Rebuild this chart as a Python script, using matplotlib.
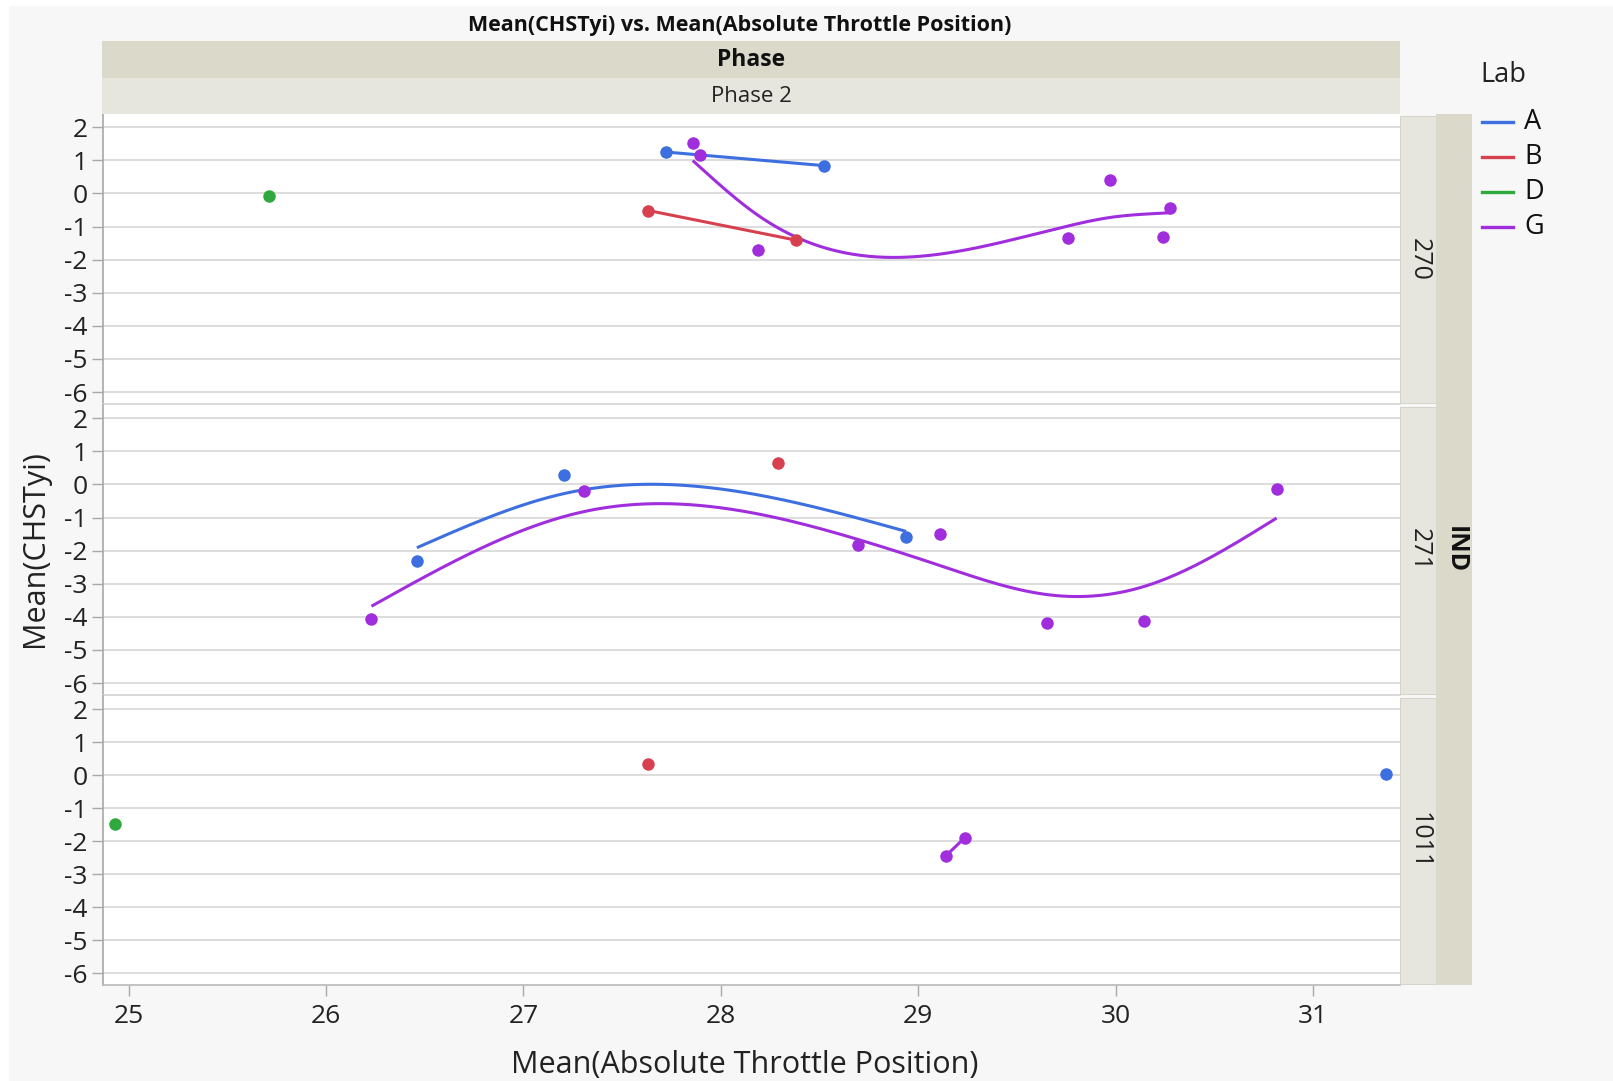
import numpy as np
import matplotlib
matplotlib.use("Agg")
import matplotlib.pyplot as plt
from matplotlib.patches import Rectangle
from matplotlib.lines import Line2D

plt.rcParams['font.family'] = ['Open Sans', 'DejaVu Sans']

# ---------------- data ----------------
panels = ["270", "271", "1011"]
labs = ["A", "B", "D", "G"]
lab_colors = {"A": "#3d6fe0", "B": "#d6404f", "D": "#2fa83e", "G": "#a02edd"}

# IND 270
x_270_A = [27.724, 28.523]
y_270_A = [1.25, 0.84]
x_270_B = [27.632, 28.38]
y_270_B = [-0.515, -1.41]
x_270_D = [25.711]
y_270_D = [-0.08]
x_270_G = [27.857, 27.893, 28.187, 29.759, 29.972, 30.24, 30.277]
y_270_G = [1.515, 1.15, -1.72, -1.35, 0.415, -1.31, -0.445]

# IND 271
x_271_A = [26.46, 27.205, 28.938]
y_271_A = [-2.30, 0.28, -1.585]
x_271_B = [28.29]
y_271_B = [0.66]
x_271_G = [26.23, 27.306, 28.696, 29.111, 29.65, 30.145, 30.815]
y_271_G = [-4.05, -0.21, -1.83, -1.495, -4.2, -4.12, -0.13]

# IND 1011
x_1011_A = [31.37]
y_1011_A = [0.05]
x_1011_B = [27.629]
y_1011_B = [0.34]
x_1011_D = [24.93]
y_1011_D = [-1.485]
x_1011_G = [29.14, 29.235]
y_1011_G = [-2.44, -1.9]

series = {
    "270": {"A": (x_270_A, y_270_A), "B": (x_270_B, y_270_B),
            "D": (x_270_D, y_270_D), "G": (x_270_G, y_270_G)},
    "271": {"A": (x_271_A, y_271_A), "B": (x_271_B, y_271_B),
            "G": (x_271_G, y_271_G)},
    "1011": {"A": (x_1011_A, y_1011_A), "B": (x_1011_B, y_1011_B),
             "D": (x_1011_D, y_1011_D), "G": (x_1011_G, y_1011_G)},
}

x_ticks = [25, 26, 27, 28, 29, 30, 31]
y_ticks = [2, 1, 0, -1, -2, -3, -4, -5, -6]

# smoothing penalty per fitted curve (standardized x)
smooth_lambda = {("270", "G"): 0.03, ("271", "A"): 0.075, ("271", "G"): 0.032}
default_lambda = 0.05


def smoother(x, y, lam, n=300):
    """Cubic smoothing spline on standardized x (natural spline, Reinsch form)."""
    x = np.asarray(x, float)
    y = np.asarray(y, float)
    o = np.argsort(x)
    x, y = x[o], y[o]
    if len(x) == 2:
        return x, y
    m, s = x.mean(), x.std()
    u = (x - m) / s
    k = len(u)
    h = np.diff(u)
    Q = np.zeros((k, k - 2))
    R = np.zeros((k - 2, k - 2))
    for j in range(1, k - 1):
        Q[j - 1, j - 1] = 1 / h[j - 1]
        Q[j, j - 1] = -1 / h[j - 1] - 1 / h[j]
        Q[j + 1, j - 1] = 1 / h[j]
        R[j - 1, j - 1] = (h[j - 1] + h[j]) / 3
        if j < k - 2:
            R[j - 1, j] = R[j, j - 1] = h[j] / 6
    K = Q @ np.linalg.solve(R, Q.T)
    g = np.linalg.solve(np.eye(k) + lam * K, y)
    gam = np.zeros(k)
    gam[1:-1] = np.linalg.solve(R, Q.T @ g)
    t = np.linspace(u[0], u[-1], n)
    idx = np.clip(np.searchsorted(u, t) - 1, 0, k - 2)
    a = t - u[idx]
    b = u[idx + 1] - t
    hh = h[idx]
    f = (a * g[idx + 1] + b * g[idx]) / hh - a * b / 6 * (
        (1 + a / hh) * gam[idx + 1] + (1 + b / hh) * gam[idx])
    return t * s + m, f


# ---------------- layout (pixel geometry) ----------------
W, H = 1613, 1081
fig = plt.figure(figsize=(W / 100, H / 100), dpi=100, facecolor="white")


def fx(px):
    return px / W


def fy(py):
    return 1 - py / H


fig.patches.append(Rectangle((fx(9), 0), 1 - fx(9), fy(6), transform=fig.transFigure,
                             facecolor="#f7f7f7", edgecolor="none", zorder=-10))

L, R_ = 103, 1400
panel_px = [(114, 404), (405, 695), (696, 985)]
tan = "#dbd9ca"
light = "#e7e6de"

axes = []
for i, (key, (top, bot)) in enumerate(zip(panels, panel_px)):
    ax = fig.add_axes([fx(L), fy(bot), fx(R_) - fx(L), fy(top) - fy(bot)])
    ax.set_facecolor("white")
    ax.set_xlim(24.87, 31.44)
    ax.set_ylim(-6.36, 2.4)
    ax.set_yticks(y_ticks)
    ax.set_yticklabels([str(v) for v in y_ticks])
    ax.set_xticks(x_ticks)
    ax.grid(axis="y", color="#dadada", linewidth=1.3, zorder=0)
    for sp in ["top", "right"]:
        ax.spines[sp].set_visible(False)
    ax.spines["left"].set_color("#a8a8a8")
    ax.spines["left"].set_linewidth(1.2)
    ax.spines["bottom"].set_linewidth(1.2)
    ax.spines["bottom"].set_color("#b8b8b8" if i == 2 else "#d4d4d4")
    ax.tick_params(axis="y", length=8, width=1, color="#a8a8a8", pad=3,
                   labelsize=19, labelcolor="#222222")
    if i < 2:
        ax.tick_params(axis="x", length=0, labelbottom=False)
    else:
        ax.tick_params(axis="x", length=8, width=1, color="#a8a8a8", pad=6,
                       labelsize=19, labelcolor="#222222")
    for lab in labs:
        if lab not in series[key]:
            continue
        xs, ys = series[key][lab]
        c = lab_colors[lab]
        if len(xs) >= 2:
            lam = smooth_lambda.get((key, lab), default_lambda)
            sx, sy = smoother(xs, ys, lam)
            ax.plot(sx, sy, color=c, linewidth=2.2, zorder=3, solid_capstyle="butt")
        ax.plot(xs, ys, "o", color=c, markersize=9, markeredgewidth=0, zorder=4)
    axes.append(ax)

# top strips
fig.patches.append(Rectangle((fx(102), fy(78)), fx(1400) - fx(102), fy(41) - fy(78),
                             transform=fig.transFigure, facecolor=tan, edgecolor="none"))
fig.patches.append(Rectangle((fx(102), fy(114)), fx(1400) - fx(102), fy(78) - fy(114),
                             transform=fig.transFigure, facecolor=light, edgecolor="none"))
fig.text(fx(751), fy(60), "Phase", ha="center", va="center", fontsize=16.5,
         fontweight="bold", color="#111111")
fig.text(fx(751), fy(97), "Phase 2", ha="center", va="center", fontsize=16,
         color="#222222")

# right strips
for key, (top, bot) in zip(panels, panel_px):
    fig.patches.append(Rectangle((fx(1400), fy(bot - 1)), fx(1436) - fx(1400),
                                 fy(top + 2) - fy(bot - 1), transform=fig.transFigure,
                                 facecolor=light, edgecolor="#d2d0c4", linewidth=0.6))
    fig.text(fx(1419), fy((top + bot) / 2), key, rotation=270, ha="center", va="center",
             fontsize=18, color="#222222")
fig.patches.append(Rectangle((fx(1436), fy(985)), fx(1472) - fx(1436), fy(114) - fy(985),
                             transform=fig.transFigure, facecolor=tan, edgecolor="none"))
fig.text(fx(1455), fy(550), "IND", rotation=270, ha="center", va="center",
         fontsize=18, fontweight="bold", color="#111111")

# titles
fig.text(fx(740), fy(25), "Mean(CHSTyi) vs. Mean(Absolute Throttle Position)",
         ha="center", va="center", fontsize=15.5, fontweight="bold", color="#111111")
fig.text(fx(35), fy(549), "Mean(CHSTyi)", rotation=90, ha="center", va="center",
         fontsize=22, color="#222222")
fig.text(fx(745), fy(1065), "Mean(Absolute Throttle Position)", ha="center",
         va="center", fontsize=22, color="#222222")

# legend
fig.text(fx(1480), fy(75), "Lab", ha="left", va="center", fontsize=19.5, color="#222222")
leg_y = [122, 157, 192, 227]
for lab, yy in zip(labs, leg_y):
    fig.lines.append(Line2D([fx(1482), fx(1513)], [fy(yy), fy(yy)],
                            transform=fig.transFigure, color=lab_colors[lab],
                            linewidth=2.4))
    fig.text(fx(1524), fy(yy), lab, ha="left", va="center", fontsize=19.5,
             color="#111111")

fig.savefig("out.png", dpi=100, facecolor=fig.get_facecolor())
